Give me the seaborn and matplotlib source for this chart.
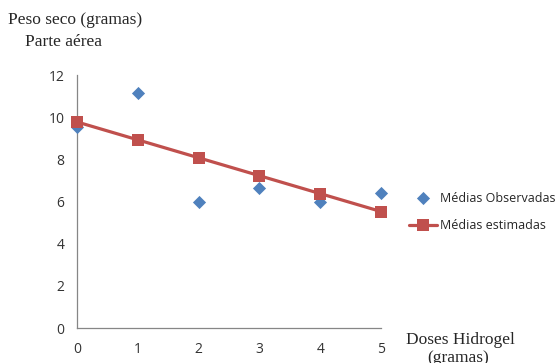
import matplotlib
matplotlib.use("Agg")
import matplotlib.pyplot as plt
import seaborn as sns
import pandas as pd

# Data
doses = [0, 1, 2, 3, 4, 5]
observadas = [9.55, 11.15, 6.0, 6.65, 6.0, 6.4]
estimadas = [9.78, 8.93, 8.08, 7.23, 6.38, 5.53]
y_ticks = [0, 2, 4, 6, 8, 10, 12]

df = pd.DataFrame({"dose": doses, "obs": observadas, "est": estimadas})

sns.set_style("white")
blue = "#4F81BD"
red = "#C0504D"
grey = "#868686"

fig = plt.figure(figsize=(5.58, 3.63), dpi=100)
ax = fig.add_axes([0.138, 0.096, 0.545, 0.697])

sns.scatterplot(data=df, x="dose", y="obs", marker="D", s=45, color=blue,
                edgecolor=blue, linewidth=0, ax=ax, label="Médias Observadas",
                zorder=3, clip_on=False)
sns.lineplot(data=df, x="dose", y="est", color=red, linewidth=2.3, marker="s",
             markersize=9, markeredgewidth=0, ax=ax, label="Médias estimadas",
             zorder=4, clip_on=False)

ax.set_xlim(0, 5)
ax.set_ylim(0, 12)
ax.set_xticks(doses)
ax.set_yticks(y_ticks)
ax.set_xlabel("")
ax.set_ylabel("")
for s in ["top", "right"]:
    ax.spines[s].set_visible(False)
for s in ["left", "bottom"]:
    ax.spines[s].set_color(grey)
    ax.spines[s].set_linewidth(0.9)
ax.tick_params(axis="both", direction="out", length=5, width=0.9, color=grey,
               labelsize=10, labelcolor="#333333", pad=4)
ax.tick_params(axis="x", pad=5)
for lbl in ax.get_xticklabels() + ax.get_yticklabels():
    lbl.set_family("Open Sans")

leg = ax.legend(loc="center left", bbox_to_anchor=(1.055, 0.46), frameon=False,
                prop={"family": "Open Sans", "size": 9}, handlelength=2.2,
                handletextpad=0.3, labelspacing=1.15)

serif = "Liberation Serif"
fig.text(0.014, 0.945, "Peso seco (gramas)", family=serif, fontsize=12.5, va="center")
fig.text(0.045, 0.884, "Parte aérea", family=serif, fontsize=12.5, va="center")
fig.text(0.728, 0.063, "Doses Hidrogel", family=serif, fontsize=12.5, va="center")
fig.text(0.766, 0.014, "(gramas)", family=serif, fontsize=12.5, va="center")

fig.savefig("out.png", dpi=100)
